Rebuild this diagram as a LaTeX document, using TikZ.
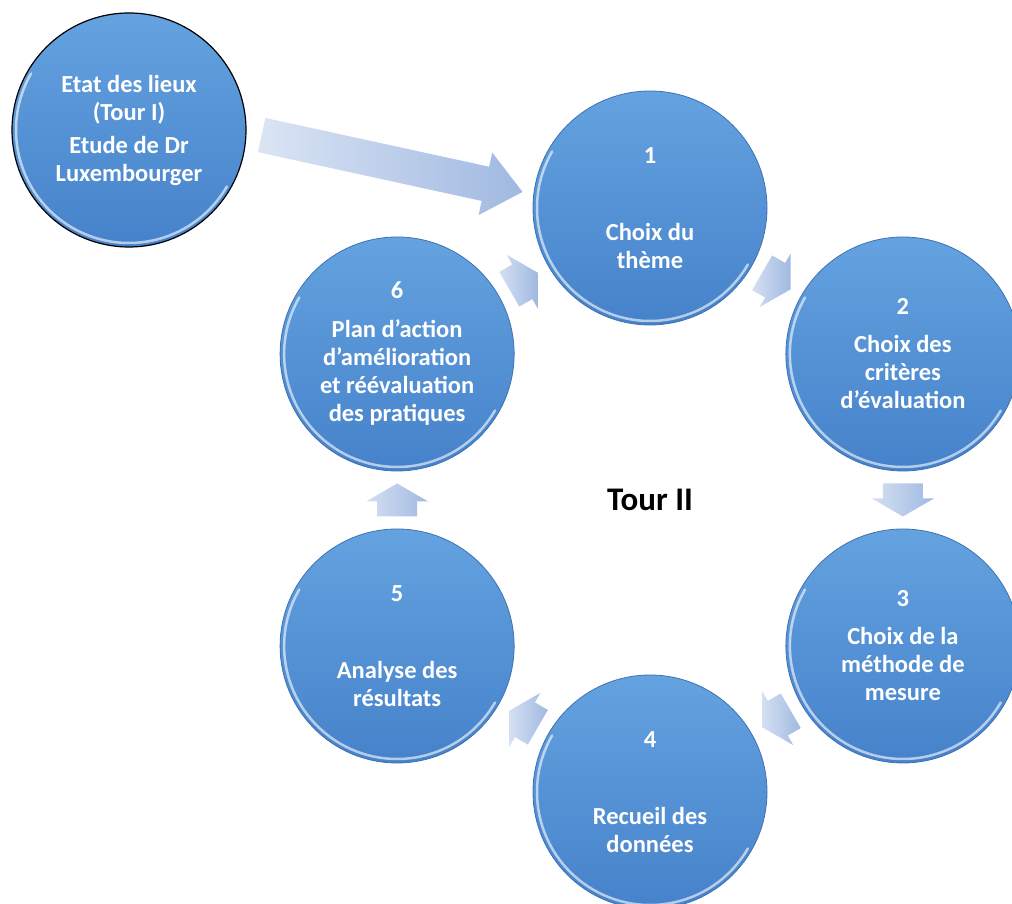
\documentclass[tikz,border=0pt]{standalone}
\usepackage{fontspec}
\setmainfont{Carlito}
\usetikzlibrary{positioning,calc,shadings}

\definecolor{ballhi}{HTML}{64A2E0}
\definecolor{balllo}{HTML}{4682CA}
\definecolor{ballrim}{HTML}{3E72B2}
\definecolor{dartlo}{HTML}{D4E0F2}
\definecolor{darthi}{HTML}{A0B9E1}

\tikzset{
  stepball/.style={circle,minimum size=234pt,inner sep=0pt,
    top color=ballhi,bottom color=balllo,draw=ballrim,line width=0.8pt,
    text=white,align=center,font=\bfseries\fontsize{24.5}{28}\selectfont},
  rimlight/.style={line width=2.5pt,draw=white,draw opacity=0.6,line cap=round},
  stepdart/.pic={
    \shade[left color=dartlo,right color=darthi]
      (-16.5,-20) -- (-1.5,-20) -- (-1.5,-31) -- (16.5,0) -- (-1.5,31)
      -- (-1.5,20) -- (-16.5,20) -- cycle;},
  bigdart/.pic={
    \shade[left color=dartlo!85!white,right color=darthi]
      (-133.5,-17.5) -- (95.5,-17.5) -- (95.5,-32) -- (133.5,0)
      -- (95.5,32) -- (95.5,17.5) -- (-133.5,17.5) -- cycle;}
}

\begin{document}
\begin{tikzpicture}[x=1pt,y=1pt]
\useasboundingbox (0,0) rectangle (1012,904);
\coordinate (hub) at (650,404);
% the six steps of the cycle
\node[stepball] (c1) at ($(hub)+(90:292)$) {1\\[49pt]Choix du\\thème};
\node[stepball] (c2) at ($(hub)+(30:292)$) {2\\[10pt]Choix des\\critères\\d’évaluation};
\node[stepball] (c3) at ($(hub)+(-30:292)$) {3\\[10pt]Choix de la\\méthode de\\mesure};
\node[stepball] (c4) at ($(hub)+(-90:292)$) {4\\[49pt]Recueil des\\données};
\node[stepball] (c5) at ($(hub)+(210:292)$) {5\\[49pt]Analyse des\\résultats};
\node[stepball] (c6) at ($(hub)+(150:292)$) {6\\[11pt]Plan d’action\\d’amélioration\\et réévaluation\\des pratiques};
\node[stepball,draw=black,line width=1.2pt] (etat) at (129,774)
  {Etat des lieux\\(Tour I)\\[5pt]Etude de Dr\\Luxembourger};
\node[font=\bfseries\fontsize{33}{38}\selectfont] (tour) at (hub) {Tour II};
% light rims
\foreach \n in {etat,c1,c2,c3,c4,c5,c6}
  \draw[rimlight] ($(\n.center)+(150:113)$) arc[start angle=150,end angle=330,radius=113];
% arrows between the steps
\foreach \i/\j/\d in {1/2/-30,2/3/-90,3/4/-150,4/5/150,5/6/90,6/1/30}
  \pic[rotate=\d] at ($(c\i)!.5!(c\j)$) {stepdart};
% from Tour I into the cycle
\coordinate (bigtail) at ($(etat.east)+(16,-5)$);
\coordinate (bigtip) at ($(c1.west)+(-11,16)$);
\pic[rotate=-12.3] at ($(bigtail)!.5!(bigtip)$) {bigdart};
\end{tikzpicture}
\end{document}
